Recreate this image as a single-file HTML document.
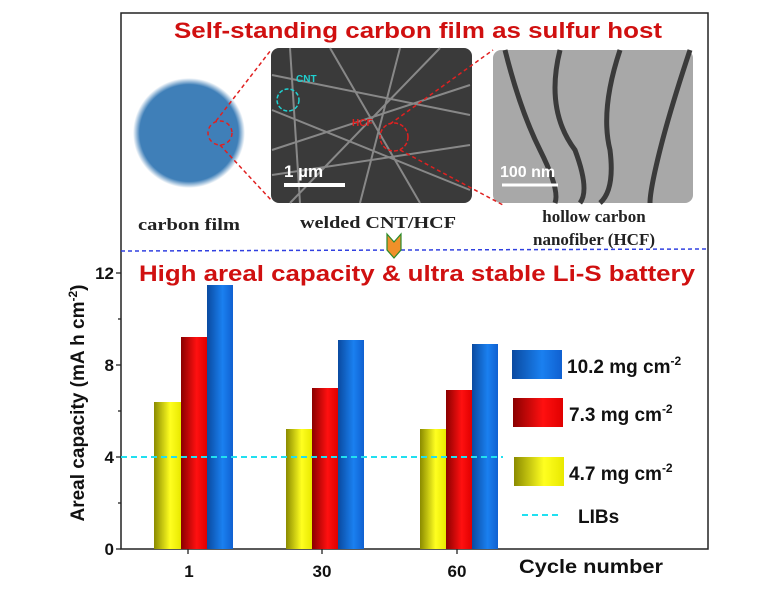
<!DOCTYPE html>
<html><head><meta charset="utf-8"><style>
body{margin:0;background:#fff;width:779px;height:589px;overflow:hidden}
.s{font-family:"Liberation Sans",sans-serif;font-weight:bold}
.r{font-family:"Liberation Serif",serif;font-weight:bold}
</style></head><body>
<svg width="779" height="589" viewBox="0 0 779 589" xmlns="http://www.w3.org/2000/svg">
<defs>
<linearGradient id="gy" x1="0" x2="1"><stop offset="0" stop-color="#8a8a00"/><stop offset="0.6" stop-color="#ffff20"/><stop offset="1" stop-color="#e8e800"/></linearGradient>
<linearGradient id="gr" x1="0" x2="1"><stop offset="0" stop-color="#8a0000"/><stop offset="0.6" stop-color="#ff1010"/><stop offset="1" stop-color="#e00000"/></linearGradient>
<linearGradient id="gb" x1="0" x2="1"><stop offset="0" stop-color="#0a4aa0"/><stop offset="0.6" stop-color="#1a80f0"/><stop offset="1" stop-color="#1060d0"/></linearGradient>
<radialGradient id="gc"><stop offset="0.88" stop-color="#3f7fb8"/><stop offset="1" stop-color="#3f7fb8" stop-opacity="0"/></radialGradient>
</defs>
<g class="s">
<rect x="121" y="13" width="587" height="536" fill="none" stroke="#222" stroke-width="1.5"/>
<text class="s" x="174" y="38" fill="#d01010" font-size="22" textLength="488" lengthAdjust="spacingAndGlyphs">Self-standing carbon film as sulfur host</text>
<ellipse cx="189" cy="133" rx="56" ry="55" fill="url(#gc)"/>
<rect x="271" y="48" width="201" height="155" rx="8" fill="#3a3a3a"/>
<g stroke="#aaa" stroke-width="2" fill="none" opacity="0.7">
<path d="M272 75 L470 115 M290 48 L300 203 M272 150 L470 85 M330 48 L420 203 M272 110 L470 190 M400 48 L360 203 M272 175 L470 145 M440 48 L290 203"/>
</g>
<circle cx="288" cy="100" r="11" fill="none" stroke="#20d0d0" stroke-width="1.5" stroke-dasharray="4 2"/>
<text class="s" x="296" y="82" fill="#20d0d0" font-size="10">CNT</text>
<circle cx="394" cy="137" r="14" fill="none" stroke="#e02020" stroke-width="1.5" stroke-dasharray="4 2"/>
<text class="s" x="352" y="126" fill="#e02020" font-size="10">HCF</text>
<text class="s" x="284" y="177" fill="#fff" font-size="17">1 µm</text>
<line x1="284" y1="185" x2="345" y2="185" stroke="#fff" stroke-width="4"/>
<rect x="493" y="50" width="200" height="153" rx="8" fill="#a8a8a8"/>
<path d="M505 50 Q520 110 540 150 Q560 190 555 203 M560 50 Q545 110 575 150 Q590 190 580 203 M620 50 Q600 110 610 150 Q615 190 600 203 M690 50 Q670 110 660 150 Q650 190 650 203" stroke="#3a3a3a" stroke-width="5" fill="none"/>
<text class="s" x="500" y="177" fill="#fff" font-size="16">100 nm</text>
<line x1="502" y1="185" x2="558" y2="185" stroke="#fff" stroke-width="3"/>
<g stroke="#e02020" stroke-width="1.5" fill="none" stroke-dasharray="4 3">
<circle cx="220" cy="133" r="12"/>
<line x1="216" y1="121" x2="271" y2="50"/><line x1="220" y1="145" x2="272" y2="201"/>
<line x1="390" y1="124" x2="493" y2="50"/><line x1="400" y1="150" x2="503" y2="205"/>
</g>
<text class="r" x="138" y="230" font-size="17" fill="#222" textLength="102" lengthAdjust="spacingAndGlyphs">carbon film</text>
<text class="r" x="300" y="228" font-size="17" fill="#222" textLength="156" lengthAdjust="spacingAndGlyphs">welded CNT/HCF</text>
<text class="r" x="594" y="222" font-size="17" fill="#222" text-anchor="middle">hollow carbon</text>
<text class="r" x="594" y="245" font-size="17" fill="#222" text-anchor="middle">nanofiber (HCF)</text>
<line x1="121" y1="251" x2="708" y2="249" stroke="#3040e0" stroke-width="1.5" stroke-dasharray="4 3"/>
<path d="M387 234 L394 242 L401 234 L401 250 L394 258 L387 250 Z" fill="#f0902a" stroke="#2a8a2a" stroke-width="1.2"/>
<text class="s" x="139" y="281" fill="#d01010" font-size="22" textLength="556" lengthAdjust="spacingAndGlyphs">High areal capacity &amp; ultra stable Li-S battery</text>
<g font-size="17" fill="#111" text-anchor="end">
<text class="s" x="114" y="279">12</text><text class="s" x="114" y="371">8</text><text class="s" x="114" y="463">4</text><text class="s" x="114" y="555">0</text>
</g>
<g stroke="#222" stroke-width="1.3">
<line x1="116" y1="273" x2="121" y2="273"/><line x1="118" y1="319" x2="121" y2="319"/>
<line x1="116" y1="365" x2="121" y2="365"/><line x1="118" y1="411" x2="121" y2="411"/>
<line x1="116" y1="457" x2="121" y2="457"/><line x1="118" y1="503" x2="121" y2="503"/>
<line x1="116" y1="549" x2="121" y2="549"/>
<line x1="188" y1="549" x2="188" y2="554"/><line x1="322" y1="549" x2="322" y2="554"/><line x1="457" y1="549" x2="457" y2="554"/>
</g>
<text class="s" transform="translate(84,403) rotate(-90)" text-anchor="middle" font-size="19" fill="#111">Areal capacity (mA h cm<tspan dy="-7" font-size="12">-2</tspan><tspan dy="7">)</tspan></text>
<rect x="154" y="402" width="27" height="147" fill="url(#gy)"/>
<rect x="181" y="337" width="26" height="212" fill="url(#gr)"/>
<rect x="207" y="285" width="26" height="264" fill="url(#gb)"/>
<rect x="286" y="429" width="26" height="120" fill="url(#gy)"/>
<rect x="312" y="388" width="26" height="161" fill="url(#gr)"/>
<rect x="338" y="340" width="26" height="209" fill="url(#gb)"/>
<rect x="420" y="429" width="26" height="120" fill="url(#gy)"/>
<rect x="446" y="390" width="26" height="159" fill="url(#gr)"/>
<rect x="472" y="344" width="26" height="205" fill="url(#gb)"/>
<line x1="121" y1="457" x2="503" y2="457" stroke="#20e0f0" stroke-width="2" stroke-dasharray="6 4"/>
<g font-size="17" fill="#111" text-anchor="middle">
<text class="s" x="189" y="577">1</text><text class="s" x="322" y="577">30</text><text class="s" x="457" y="577">60</text>
</g>
<text class="s" x="519" y="573" font-size="19" fill="#111" textLength="144" lengthAdjust="spacingAndGlyphs">Cycle number</text>
<rect x="512" y="350" width="50" height="29" fill="url(#gb)"/>
<rect x="513" y="398" width="50" height="29" fill="url(#gr)"/>
<rect x="514" y="457" width="50" height="29" fill="url(#gy)"/>
<line x1="522" y1="515" x2="562" y2="515" stroke="#20e0f0" stroke-width="2" stroke-dasharray="6 4"/>
<g font-size="19" fill="#111">
<text class="s" x="567" y="373">10.2 mg cm<tspan dy="-8" font-size="12">-2</tspan></text>
<text class="s" x="569" y="421">7.3 mg cm<tspan dy="-8" font-size="12">-2</tspan></text>
<text class="s" x="569" y="480">4.7 mg cm<tspan dy="-8" font-size="12">-2</tspan></text>
<text class="s" x="578" y="523">LIBs</text>
</g>
</g>
</svg>
</body></html>
